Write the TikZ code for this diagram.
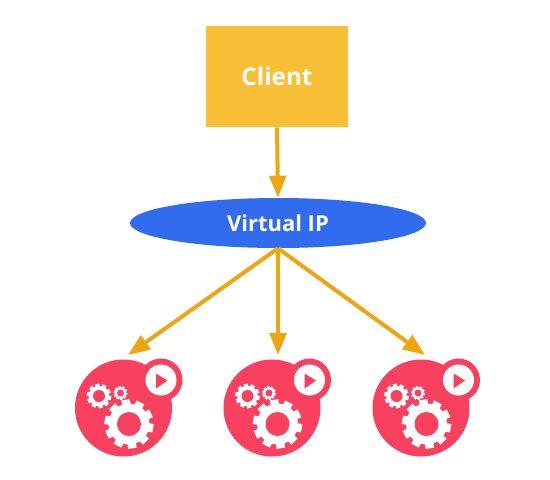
\documentclass[tikz,border=0pt]{standalone}
\usepackage{fontspec}
\setmainfont{Open Sans}
\usetikzlibrary{arrows.meta,shapes.geometric}
\definecolor{clientyellow}{HTML}{F9BF36}
\definecolor{vipblue}{HTML}{316BEE}
\definecolor{apppink}{HTML}{F9405F}
\definecolor{arroworange}{HTML}{EFA50F}
\newcommand{\drawgear}[4]{
	\foreach \a in {0,36,...,324} {
		\fill[white,shift={(#1,#2)},rotate=\a+8] (-0.17*#3,0.7*#3) rectangle (0.17*#3,0.98*#3);
	}
	\fill[white] (#1,#2) circle (0.82*#3);
	\fill[apppink] (#1,#2) circle (#4);
}
\tikzset{
	clientbox/.style={fill=clientyellow,minimum width=2.84cm,minimum height=2.02cm,text=white,font=\bfseries\fontsize{13.8}{16}\selectfont},
	vipbox/.style={ellipse,fill=vipblue,minimum width=5.92cm,minimum height=1cm,inner sep=0pt,text=white,font=\bfseries\fontsize{12.5}{14}\selectfont},
	appdisc/.style={circle,fill=apppink,minimum size=1.94cm,inner sep=0pt},
	flow/.style={draw=arroworange,line width=0.08cm,-{Triangle[length=0.44cm,width=0.33cm]}},
	appicon/.pic={
		\fill[apppink] (0.75,0.56) circle (0.43);
		\fill[white] (0.75,0.56) circle (0.31);
		\fill[apppink] (0.65,0.69) -- (0.88,0.55) -- (0.65,0.39) -- cycle;
		\drawgear{0.11}{-0.32}{0.5}{0.24}
		\drawgear{-0.49}{0.24}{0.25}{0.12}
		\drawgear{-0.06}{0.3}{0.14}{0.07}
	}
}
\begin{document}
\begin{tikzpicture}
	\useasboundingbox (0,0) rectangle (11,-9.58);
	\node [clientbox] (client) at (5.54,-1.53) {Client};
	\node [vipbox] (vip) at (5.56,-4.46) {Virtual IP};
	% the three instances
	\node [appdisc] (app1) at (2.47,-8.16) {};
	\node [appdisc] (app2) at (5.44,-8.16) {};
	\node [appdisc] (app3) at (8.42,-8.16) {};
	\pic at (app1) {appicon};
	\pic at (app2) {appicon};
	\pic at (app3) {appicon};
	\coordinate (tip1) at (2.56,-7.1);
	\coordinate (tip2) at (5.56,-7.1);
	\coordinate (tip3) at (8.5,-7.1);
	\draw[flow] (client.south) -- (vip.north);
	\draw[flow] (vip.south) -- (tip1);
	\draw[flow] (vip.south) -- (tip2);
	\draw[flow] (vip.south) -- (tip3);
\end{tikzpicture}
\end{document}
